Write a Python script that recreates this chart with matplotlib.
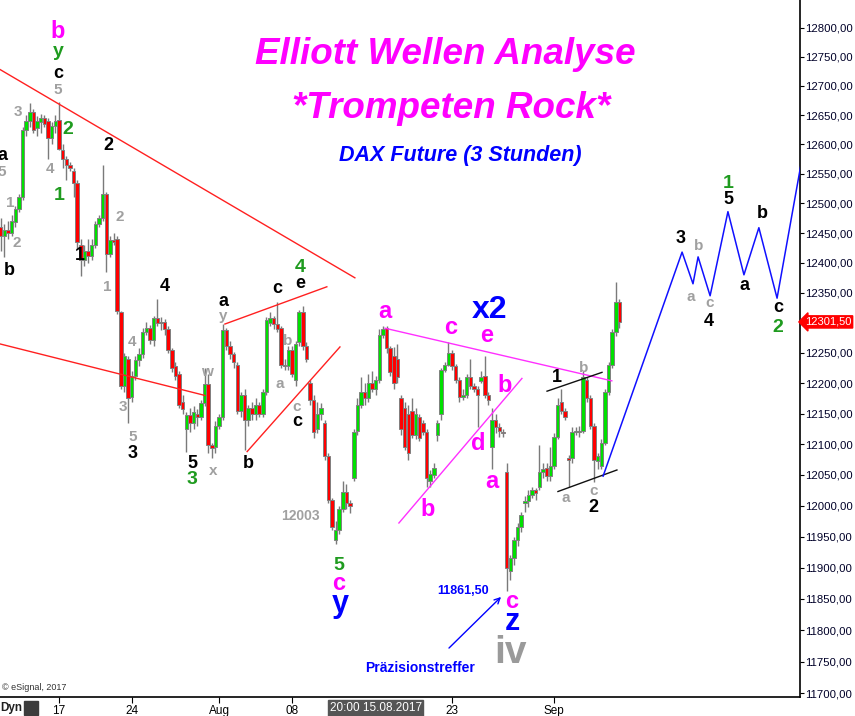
# Elliott wave chart of the DAX future (3 hour bars)
import matplotlib.pyplot as plt
from matplotlib import transforms
from matplotlib.ticker import FixedLocator, NullLocator, FuncFormatter
import numpy as np

plt.rcParams['font.family'] = ['Liberation Sans', 'DejaVu Sans']

# OHLC per bar, bar 0 = left edge of the chart
opens = [12460, 12445, 12455, 12450, 12468, 12490, 12510, 12625, 12640, 12655,
         12628, 12638, 12645, 12640, 12610, 12632, 12642, 12590, 12575, 12565,
         12555, 12535, 12430, 12405, 12420, 12412, 12430, 12465, 12475, 12515,
         12415, 12438, 12440, 12318, 12195, 12240, 12178, 12212, 12238, 12248,
         12285, 12292, 12272, 12308, 12300, 12302, 12290, 12255, 12228, 12215,
         12170, 12125, 12148, 12135, 12150, 12145, 12168, 12198, 12098, 12095,
         12130, 12145, 12288, 12262, 12248, 12230, 12155, 12180, 12140, 12160,
         12150, 12165, 12150, 12185, 12300, 12308, 12298, 12292, 12230, 12228,
         12255, 12205, 12268, 12318, 12262, 12200, 12172, 12125, 12150, 12135,
         12080, 12010, 11945, 11960, 11995, 12022, 12005, 12045, 12122, 12165,
         12185, 12175, 12200, 12190, 12205, 12280, 12292, 12258, 12245, 12240,
         12175, 12160, 12150, 12155, 12115, 12145, 12135, 12120, 12040, 12050,
         12115, 12150, 12222, 12230, 12250, 12228, 12205, 12178, 12180, 12210,
         12195, 12190, 12203, 12212, 12180, 12095, 12140, 12128, 12120, 12055,
         11895, 11915, 11945, 11965, 12005, 12008, 12018, 12025, 12030, 12055,
         12062, 12048, 12065, 12112, 12170, 12155, 12078, 12078, 12120, 12122,
         12122, 12205, 12175, 12130, 12072, 12065, 12102, 12185, 12230, 12285,
         12335]
highs = [12475, 12465, 12470, 12480, 12495, 12515, 12630, 12650, 12670, 12660,
         12648, 12652, 12650, 12645, 12638, 12650, 12672, 12600, 12580, 12570,
         12560, 12540, 12440, 12430, 12440, 12440, 12470, 12480, 12565, 12520,
         12445, 12450, 12445, 12320, 12250, 12245, 12220, 12245, 12258, 12292,
         12302, 12296, 12312, 12340, 12310, 12306, 12295, 12258, 12235, 12220,
         12180, 12152, 12160, 12162, 12158, 12172, 12225, 12215, 12102, 12138,
         12150, 12298, 12292, 12270, 12252, 12235, 12185, 12190, 12165, 12170,
         12175, 12170, 12190, 12310, 12318, 12312, 12335, 12295, 12240, 12262,
         12262, 12270, 12322, 12328, 12268, 12205, 12180, 12170, 12168, 12140,
         12085, 12012, 11975, 12000, 12040, 12035, 12010, 12125, 12175, 12210,
         12200, 12215, 12220, 12212, 12290, 12295, 12295, 12262, 12260, 12265,
         12180, 12170, 12165, 12175, 12160, 12150, 12140, 12125, 12058, 12070,
         12140, 12225, 12235, 12268, 12255, 12232, 12210, 12190, 12215, 12240,
         12200, 12195, 12220, 12245, 12185, 12160, 12150, 12135, 12125, 12070,
         11920, 11950, 11972, 11990, 12015, 12025, 12030, 12028, 12098, 12070,
         12070, 12095, 12118, 12175, 12190, 12160, 12082, 12128, 12128, 12130,
         12220, 12210, 12180, 12135, 12085, 12108, 12190, 12235, 12290, 12368,
         12340]
lows = [12420, 12410, 12440, 12445, 12460, 12485, 12505, 12615, 12630, 12620,
        12615, 12620, 12630, 12575, 12600, 12620, 12590, 12560, 12540, 12555,
        12510, 12425, 12378, 12395, 12400, 12405, 12425, 12460, 12470, 12385,
        12410, 12430, 12315, 12190, 12185, 12135, 12170, 12205, 12228, 12242,
        12280, 12265, 12262, 12295, 12288, 12280, 12250, 12218, 12205, 12160,
        12150, 12088, 12120, 12125, 12130, 12140, 12162, 12085, 12078, 12085,
        12125, 12140, 12255, 12240, 12225, 12150, 12145, 12090, 12130, 12140,
        12140, 12145, 12145, 12180, 12295, 12290, 12285, 12225, 12222, 12222,
        12210, 12195, 12262, 12255, 12235, 12165, 12110, 12118, 12140, 12075,
        12005, 11960, 11938, 11955, 11990, 11995, 11988, 12040, 12115, 12160,
        12165, 12170, 12185, 12180, 12200, 12275, 12250, 12212, 12190, 12200,
        12115, 12090, 12075, 12110, 12108, 12105, 12115, 12030, 12030, 12045,
        12105, 12140, 12218, 12228, 12222, 12200, 12170, 12172, 12175, 12190,
        12185, 12128, 12200, 12175, 12165, 12060, 12118, 12112, 12112, 11862,
        11880, 11905, 11935, 11958, 11990, 11998, 12012, 12010, 12025, 12045,
        12040, 12040, 12060, 12108, 12150, 12140, 12030, 12070, 12115, 12112,
        12118, 12170, 12125, 12038, 12060, 12060, 12098, 12180, 12225, 12278,
        12292]
closes = [12445, 12455, 12450, 12470, 12490, 12510, 12625, 12640, 12655, 12625,
          12640, 12645, 12635, 12610, 12632, 12640, 12592, 12575, 12565, 12560,
          12535, 12435, 12405, 12420, 12412, 12430, 12465, 12475, 12515, 12415,
          12438, 12435, 12320, 12195, 12245, 12175, 12212, 12238, 12248, 12285,
          12292, 12272, 12308, 12300, 12302, 12290, 12255, 12225, 12212, 12165,
          12158, 12148, 12135, 12152, 12145, 12168, 12198, 12098, 12094, 12130,
          12145, 12288, 12262, 12248, 12235, 12155, 12180, 12140, 12160, 12150,
          12165, 12150, 12185, 12305, 12308, 12298, 12290, 12230, 12228, 12255,
          12215, 12265, 12318, 12262, 12240, 12172, 12120, 12150, 12160, 12080,
          12010, 11965, 11960, 11995, 12022, 12005, 12000, 12120, 12165, 12185,
          12175, 12200, 12190, 12205, 12280, 12290, 12258, 12218, 12200, 12210,
          12125, 12095, 12085, 12115, 12150, 12110, 12120, 12045, 12052, 12062,
          12135, 12222, 12230, 12250, 12228, 12205, 12178, 12180, 12210, 12195,
          12190, 12180, 12210, 12180, 12172, 12140, 12128, 12122, 12118, 11900,
          11915, 11945, 11965, 11985, 12008, 12018, 12025, 12020, 12055, 12060,
          12048, 12065, 12112, 12165, 12155, 12145, 12075, 12120, 12122, 12120,
          12210, 12175, 12130, 12075, 12080, 12102, 12185, 12230, 12285, 12335,
          12301.5]

# projected wave path (bar index, price)
proj_x = [165.5, 187.2, 190.2, 191.6, 194.9, 199.8, 204.2, 208.3, 213.3, 222.0]
proj_y = [12048, 12418, 12365, 12410, 12345, 12486, 12380, 12459, 12341, 12640]

# trend lines: ((x0, x1), (y0, y1)) in bar index / price
red_lines = [((-0.2, 97.3), (12728, 12375)),
             ((-0.2, 56.1), (12265, 12180)),
             ((61.6, 89.6), (12298, 12360)),
             ((67.7, 93.2), (12088, 12260))]
magenta_lines = [((105.6, 167.9), (12291, 12204)),
                 ((109.4, 143.2), (11972, 12208))]
black_lines = [((150.1, 165.2), (12187, 12218)),
               ((153.1, 169.3), (12023, 12058))]

price_ticks = list(range(11700, 12801, 50))
date_pos = [16, 36, 60, 80, 124, 152]
date_labels = ['17', '24', 'Aug', '08', '23', 'Sep']
cursor_pos = 103
cursor_label = '20:00 15.08.2017'
last_price = 12301.5

BLACK, GRAY, GREEN, MAG, BLUE = '#000000', '#a0a0a0', '#1f9b1f', '#ff00ff', '#0000ff'

# wave labels: pixel position (x, y), text, colour, size
wave_labels = [
    (2, 156, 'a', BLACK, 13), (9, 270, 'b', BLACK, 13), (58, 73, 'c', BLACK, 13),
    (108, 145, '2', BLACK, 13), (80, 255, '1', BLACK, 13), (165, 286, '4', BLACK, 13),
    (133, 453, '3', BLACK, 13), (192, 463, '5', BLACK, 13), (223, 301, 'a', BLACK, 13),
    (248, 463, 'b', BLACK, 13), (277, 289, 'c', BLACK, 13), (300, 284, 'e', BLACK, 13),
    (297, 422, 'c', BLACK, 13), (557, 377, '1', BLACK, 13), (593, 507, '2', BLACK, 13),
    (681, 238, '3', BLACK, 13), (709, 322, '4', BLACK, 13), (728, 199, '5', BLACK, 13),
    (744, 285, 'a', BLACK, 13), (762, 213, 'b', BLACK, 13), (778, 308, 'c', BLACK, 13),
    (2, 172, '5', GRAY, 11), (10, 203, '1', GRAY, 11), (17, 243, '2', GRAY, 11),
    (18, 112, '3', GRAY, 11), (58, 90, '5', GRAY, 11), (50, 169, '4', GRAY, 11),
    (120, 217, '2', GRAY, 11), (107, 287, '1', GRAY, 11), (132, 342, '4', GRAY, 11),
    (123, 407, '3', GRAY, 11), (133, 437, '5', GRAY, 11), (207, 372, 'w', GRAY, 11),
    (213, 471, 'x', GRAY, 11), (223, 316, 'y', GRAY, 11), (288, 341, 'b', GRAY, 11),
    (280, 384, 'a', GRAY, 11), (297, 407, 'c', GRAY, 11), (584, 368, 'b', GRAY, 11),
    (566, 498, 'a', GRAY, 11), (594, 491, 'c', GRAY, 11), (699, 246, 'b', GRAY, 11),
    (691, 297, 'a', GRAY, 11), (710, 303, 'c', GRAY, 11),
    (68, 129, '2', GREEN, 14), (59, 195, '1', GREEN, 14), (192, 480, '3', GREEN, 14),
    (300, 267, '4', GREEN, 14), (339, 565, '5', GREEN, 14), (728, 183, '1', GREEN, 14),
    (778, 327, '2', GREEN, 14), (58, 52, 'y', GREEN, 14),
    (58, 31, 'b', MAG, 17), (385, 312, 'a', MAG, 17), (451, 328, 'c', MAG, 17),
    (487, 336, 'e', MAG, 17), (505, 385, 'b', MAG, 17), (478, 443, 'd', MAG, 17),
    (492, 482, 'a', MAG, 17), (428, 510, 'b', MAG, 17), (339, 583, 'c', MAG, 17),
    (512, 602, 'c', MAG, 17),
    (490, 310, 'x2', BLUE, 23), (340, 604, 'y', BLUE, 22), (512, 622, 'z', BLUE, 22),
    (510, 653, 'iv', '#9a9a9a', 28),
]

AX_W, AX_H = 800, 697


def at(x, y):
    return x / AX_W, 1 - y / AX_H


def price_fmt(v, pos):
    return f'{v:.2f}'.replace('.', ',')


fig = plt.figure(figsize=(8.55, 7.16), dpi=100)
ax = fig.add_axes([0, 19 / 716, AX_W / 855, AX_H / 716])
ax.set_yscale('log')

idx = np.arange(len(closes))
o = np.array(opens)
c = np.array(closes)
up = c >= o
body_lo = np.minimum(o, c)
body_h = np.maximum(np.abs(c - o), 1.5)
ax.vlines(idx, lows, highs, color='#7a7a7a', lw=1, zorder=2)
ax.bar(idx, body_h, bottom=body_lo, width=0.95,
       color=np.where(up, '#00e000', '#ff0000'), edgecolor='#808080',
       linewidth=0.7, zorder=3)

for (x0, x1), (y0, y1) in red_lines:
    ax.plot([x0, x1], [y0, y1], color='#ff2020', lw=1, zorder=4)
for (x0, x1), (y0, y1) in magenta_lines:
    ax.plot([x0, x1], [y0, y1], color='#ff30ff', lw=1, zorder=4)
for (x0, x1), (y0, y1) in black_lines:
    ax.plot([x0, x1], [y0, y1], color='#101010', lw=1, zorder=4)
ax.plot(proj_x, proj_y, color='#1010ff', lw=1.1, zorder=4)

ax.set_xlim(-0.2, 219.6)
ax.set_ylim(11694, 12848)

# axes cosmetics: only right and bottom lines
for side in ('left', 'top'):
    ax.spines[side].set_visible(False)
ax.spines['right'].set_linewidth(1.2)
ax.spines['bottom'].set_linewidth(1.2)
ax.yaxis.tick_right()
ax.yaxis.set_major_locator(FixedLocator(price_ticks))
ax.yaxis.set_minor_locator(NullLocator())
ax.yaxis.set_major_formatter(FuncFormatter(price_fmt))
ax.tick_params(axis='y', length=3, pad=1, labelsize=8.2, labelcolor='#000028')
ax.set_xticks(date_pos)
ax.set_xticklabels(date_labels)
ax.tick_params(axis='x', length=4, pad=2, labelsize=8.5)

# titles
ax.text(*at(445, 55), 'Elliott Wellen Analyse', transform=ax.transAxes, ha='center',
        va='center', color=MAG, fontsize=26.5, fontweight='bold', style='italic')
ax.text(*at(451, 108), '*Trompeten Rock*', transform=ax.transAxes, ha='center',
        va='center', color=MAG, fontsize=26.5, fontweight='bold', style='italic')
ax.text(*at(460, 155), 'DAX Future (3 Stunden)', transform=ax.transAxes, ha='center',
        va='center', color=BLUE, fontsize=15.5, fontweight='bold', style='italic')

for x, y, s, col, size in wave_labels:
    ax.text(*at(x, y), s, transform=ax.transAxes, ha='center', va='center',
            color=col, fontsize=size, fontweight='bold', clip_on=True, zorder=6)

ax.text(*at(300, 516), '12003', transform=ax.transAxes, ha='center', va='center',
        color=GRAY, fontsize=10, fontweight='bold')
ax.text(*at(463, 591), '11861,50', transform=ax.transAxes, ha='center', va='center',
        color=BLUE, fontsize=9, fontweight='bold')
ax.text(*at(420, 668), 'Präzisionstreffer', transform=ax.transAxes, ha='center',
        va='center', color=BLUE, fontsize=10, fontweight='bold')
ax.annotate('', xy=at(503, 595), xytext=at(447, 650), xycoords='axes fraction',
            textcoords='axes fraction',
            arrowprops=dict(arrowstyle='->', color=BLUE, lw=1))
ax.text(*at(2, 688), '© eSignal, 2017', transform=ax.transAxes, ha='left',
        va='center', color='#333333', fontsize=6.5)

# last price marker on the price axis
tr = transforms.blended_transform_factory(ax.transAxes, ax.transData)
ax.text(1.0065, last_price, price_fmt(last_price, None), transform=tr, ha='left',
        va='center', color='white', fontsize=8, clip_on=False,
        bbox=dict(boxstyle='larrow,pad=0.1', fc='#ff0000', ec='#ff0000'))

# cursor time label under the axis
trx = transforms.blended_transform_factory(ax.transData, ax.transAxes)
ax.text(cursor_pos, -0.016, cursor_label, transform=trx, ha='center', va='center',
        color='white', fontsize=8.5, clip_on=False,
        bbox=dict(boxstyle='square,pad=0.15', fc='#555555', ec='#555555'))

fig.text(0, 1 - 708 / 716, 'Dyn', ha='left', va='center', fontsize=8.5,
         fontweight='bold', color='#202020')
fig.patches.append(plt.Rectangle((24 / 855, 1 - 715 / 716), 14 / 855, 14 / 716,
                                 transform=fig.transFigure, color='#3c3c3c'))

fig.savefig('out.png', dpi=100)
